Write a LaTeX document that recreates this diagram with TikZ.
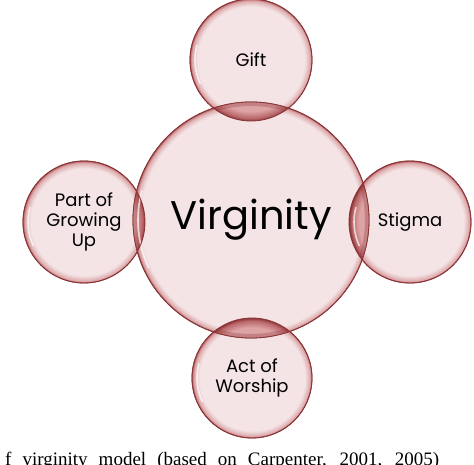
\documentclass[tikz,border=0pt]{standalone}
\usepackage{fontspec}
\setmainfont{Liberation Serif}
\newfontfamily\bubblefont{Poppins}
\definecolor{bubblefill}{HTML}{F4E4E5}
\definecolor{bubblerim}{HTML}{DDABAD}
\definecolor{bubbleline}{HTML}{8A3436}
\definecolor{lensfill}{HTML}{DDA3A5}
\definecolor{lensrim}{HTML}{B86467}
\pgfdeclareradialshading{bubbleshade}{\pgfpoint{0bp}{0bp}}{%
  color(0bp)=(bubblefill); color(22bp)=(bubblefill);
  color(24.2bp)=(bubblerim); color(25bp)=(lensrim); color(50bp)=(lensrim)}
\pgfdeclareradialshading{coreshade}{\pgfpoint{0bp}{0bp}}{%
  color(0bp)=(bubblefill); color(23.5bp)=(bubblefill);
  color(24.6bp)=(bubblerim); color(25bp)=(lensrim); color(50bp)=(lensrim)}
\pgfdeclareradialshading{lensshade}{\pgfpoint{0bp}{0bp}}{%
  color(0bp)=(lensfill); color(21bp)=(lensfill);
  color(24bp)=(lensrim); color(25bp)=(bubbleline); color(50bp)=(bubbleline)}
\tikzset{
  bubble/.style={circle, draw=bubbleline, line width=0.8pt, shading=bubbleshade,
    inner sep=0pt, align=center, text=black,
    font=\bubblefont\fontsize{18}{20}\selectfont},
  rim/.style={draw=bubbleline, line width=0.8pt},
  gloss/.style={white, line width=1.6pt, opacity=0.7, line cap=round}
}
\begin{document}
\begin{tikzpicture}[x=1pt, y=1pt]
\useasboundingbox (0,0) rectangle (474,464);

% satellites and centre
\node[bubble, minimum size=122] (gift) at (251,404) {Gift};
\node[bubble, minimum size=122] (growing) at (84,242) {Part of\\Growing\\Up};
\node[bubble, minimum size=122] (stigma) at (410,242) {Stigma};
\node[bubble, minimum size=120] (worship) at (252,86) {Act of\\Worship};
\node[bubble, shading=coreshade, minimum size=236,
  font=\bubblefont\fontsize{40}{42}\selectfont] (virg) at (251,244) {Virginity};

% overlaps with the centre
\foreach \s/\r in {gift/61, growing/61, stigma/61, worship/60} {
  \begin{scope}
    \clip (virg.center) circle[radius=118];
    \shade[shading=lensshade] (\s.center) circle[radius=\r];
    \clip (\s.center) circle[radius=\r];
    \draw[bubbleline, line width=8pt, opacity=0.3] (virg.center) circle[radius=118];
  \end{scope}
}

% gloss and outlines
\foreach \n/\r in {virg/118, gift/61, growing/61, stigma/61, worship/60} {
  \draw[gloss] ([shift={(165:\r-5)}]\n.center) arc[start angle=165, end angle=205, radius=\r-5];
  \draw[rim] (\n.center) circle[radius=\r];
}

% caption, cut by the page edge
\node[anchor=base west, inner sep=0pt, font=\fontsize{19}{20}\selectfont]
  (caption) at (5,-1) {\makebox[434pt][s]{f virginity model (based on Carpenter, 2001, 2005)}};
\end{tikzpicture}
\end{document}
